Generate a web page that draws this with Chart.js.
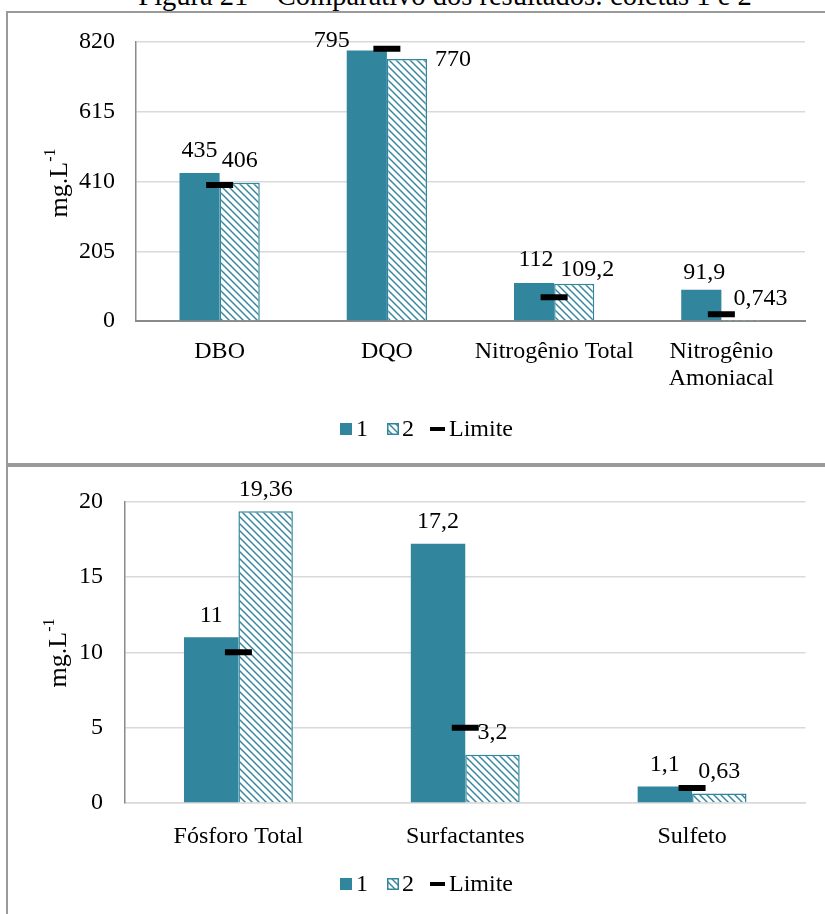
<!DOCTYPE html>
<html>
<head>
<meta charset="utf-8">
<script src="https://cdn.jsdelivr.net/npm/chart.js@4.4.1/dist/chart.umd.min.js"></script>
<style>
  html, body { margin: 0; padding: 0; background: #fff; width: 825px; height: 914px; overflow: hidden; position: relative; }
  .title { position: absolute; left: 0; width: 890px; top: -20px; text-align: center; font-family: 'Liberation Serif', 'Times New Roman', serif; font-size: 28.5px; line-height: 32px; color: #000; white-space: nowrap; }
  .box { position: absolute; border: 2px solid #9a9a9a; box-sizing: border-box; }
  #box1 { left: 6px; top: 11px; width: 860px; height: 454px; }
  #box2 { left: 6px; top: 465px; width: 860px; height: 520px; }
  canvas { position: absolute; left: 0; }
  #c1 { top: 0; }
  #c2 { top: 466px; }
</style>
</head>
<body>
<div class="title">Figura 21 – Comparativo dos resultados: coletas 1 e 2</div>
<div class="box" id="box1"></div>
<div class="box" id="box2"></div>
<canvas id="c1" width="825" height="464"></canvas>
<canvas id="c2" width="825" height="448"></canvas>
<script>
// ---- data ----
const seriesNames = ['1', '2', 'Limite'];

const categoriesA = ['DBO', 'DQO', 'Nitrogênio Total', ['Nitrogênio', 'Amoniacal']];
const coleta1A = [435, 795, 112, 91.9];
const coleta2A = [406, 770, 109.2, 0.743];
const limiteA = [400, 800, 70, 20];
const yTicksA = [0, 205, 410, 615, 820];

const categoriesB = ['Fósforo Total', 'Surfactantes', 'Sulfeto'];
const coleta1B = [11, 17.2, 1.1];
const coleta2B = [19.36, 3.2, 0.63];
const limiteB = [10, 5, 1];
const yTicksB = [0, 5, 10, 15, 20];

// ---- styling ----
const FONT = "'Liberation Serif', 'Times New Roman', serif";
const FS = 24;
const TEAL = '#31859C';

function stripePattern(color) {
  const s = 7;
  const tile = document.createElement('canvas');
  tile.width = s; tile.height = s;
  const g = tile.getContext('2d');
  g.fillStyle = '#fff';
  g.fillRect(0, 0, s, s);
  g.strokeStyle = color;
  g.lineWidth = 1.4;
  g.beginPath();
  g.moveTo(-1, -1); g.lineTo(s + 1, s + 1);
  g.moveTo(-1, s - 1); g.lineTo(1, s + 1);
  g.moveTo(s - 1, -1); g.lineTo(s + 1, 1);
  g.stroke();
  return g.createPattern(tile, 'repeat');
}
const HATCH = stripePattern(TEAL);

// value labels above each bar, with optional nudges per series/category
const valueLabels = {
  id: 'valueLabels',
  afterDatasetsDraw(chart, args, opts) {
    const ctx = chart.ctx;
    ctx.save();
    ctx.font = `${FS}px ${FONT}`;
    ctx.fillStyle = '#000';
    ctx.textAlign = 'center';
    ctx.textBaseline = 'middle';
    chart.data.datasets.forEach((ds, di) => {
      if (ds.type === 'line') return;
      const meta = chart.getDatasetMeta(di);
      meta.data.forEach((bar, i) => {
        const nudge = (opts.nudges && opts.nudges[di] && opts.nudges[di][i]) || [0, 0];
        const txt = String(ds.data[i]).replace('.', ',');
        ctx.fillText(txt, bar.x + nudge[0], bar.y - opts.gap + nudge[1]);
      });
    });
    ctx.restore();
  }
};

// rotated unit title with superscript
const unitTitle = {
  id: 'unitTitle',
  afterDraw(chart, args, opts) {
    const ctx = chart.ctx;
    ctx.save();
    ctx.translate(opts.x, opts.y);
    ctx.rotate(-Math.PI / 2);
    ctx.fillStyle = '#000';
    ctx.textAlign = 'left';
    ctx.textBaseline = 'alphabetic';
    ctx.font = `26px ${FONT}`;
    const w1 = ctx.measureText('mg.L').width;
    ctx.font = `16px ${FONT}`;
    const w2 = ctx.measureText('-1').width;
    const start = -(w1 + w2) / 2;
    ctx.font = `26px ${FONT}`;
    ctx.fillText('mg.L', start, 9);
    ctx.font = `16px ${FONT}`;
    ctx.fillText('-1', start + w1, -3);
    ctx.restore();
  }
};

// single-row legend under the plot
const legendRow = {
  id: 'legendRow',
  afterDraw(chart, args, opts) {
    const ctx = chart.ctx;
    ctx.save();
    ctx.font = `${FS}px ${FONT}`;
    ctx.textBaseline = 'middle';
    ctx.textAlign = 'left';
    let x = opts.x;
    const y = opts.y;
    // series 1: solid square
    ctx.fillStyle = TEAL;
    ctx.fillRect(x, y - 6, 12, 12);
    x += 16;
    ctx.fillStyle = '#000';
    ctx.fillText(seriesNames[0], x, y + 1);
    x += ctx.measureText(seriesNames[0]).width + 19;
    // series 2: hatched square
    ctx.fillStyle = HATCH;
    ctx.fillRect(x, y - 6, 12, 12);
    ctx.strokeStyle = TEAL;
    ctx.lineWidth = 1.5;
    ctx.strokeRect(x + 0.75, y - 5.25, 10.5, 10.5);
    x += 15;
    ctx.fillStyle = '#000';
    ctx.fillText(seriesNames[1], x, y + 1);
    x += ctx.measureText(seriesNames[1]).width + 16;
    // limit: short black dash
    ctx.fillStyle = '#000';
    ctx.fillRect(x, y - 2, 15, 4);
    x += 19;
    ctx.fillText(seriesNames[2], x, y + 1);
    ctx.restore();
  }
};

function buildChart(canvasId, cfg) {
  const axisFont = { family: FONT, size: FS, lineHeight: 1.14 };
  return new Chart(document.getElementById(canvasId), {
    type: 'bar',
    data: {
      labels: cfg.categories,
      datasets: [
        { label: seriesNames[0], data: cfg.s1, backgroundColor: TEAL, borderWidth: 0, order: 2 },
        { label: seriesNames[1], data: cfg.s2, backgroundColor: HATCH, borderColor: TEAL, borderWidth: 1.5, order: 2 },
        { type: 'line', label: seriesNames[2], data: cfg.lim, showLine: false, pointStyle: 'line',
          pointRadius: 13.5, pointBorderWidth: 6, borderColor: '#000', backgroundColor: '#000', order: 0 }
      ]
    },
    options: {
      responsive: false,
      animation: false,
      devicePixelRatio: 1,
      events: [],
      datasets: { bar: { barPercentage: 1, categoryPercentage: 0.48 } },
      layout: { padding: cfg.padding },
      scales: {
        x: {
          afterFit: s => { s.height = cfg.xHeight; },
          grid: { display: false },
          border: { display: true, color: cfg.xBorder, width: cfg.xBorderWidth },
          ticks: { padding: cfg.xPad, color: '#000', font: axisFont, maxRotation: 0, autoSkip: false }
        },
        y: {
          min: cfg.yTicks[0],
          max: cfg.yTicks[cfg.yTicks.length - 1],
          afterBuildTicks: s => { s.ticks = cfg.yTicks.map(v => ({ value: v })); },
          afterFit: s => { s.width = cfg.yWidth; },
          grid: { color: '#d9d9d9', lineWidth: 1.5, drawTicks: false },
          border: { display: true, color: '#8a8a8a', width: 1.5 },
          ticks: { padding: cfg.yPad, color: '#000', font: axisFont }
        }
      },
      plugins: {
        legend: { display: false },
        tooltip: { enabled: false },
        valueLabels: { gap: 22, nudges: cfg.nudges },
        unitTitle: cfg.unit,
        legendRow: cfg.legend
      }
    },
    plugins: [valueLabels, unitTitle, legendRow]
  });
}

// label nudges (dx, dy) for crowded labels in the upper chart
const nudgesA = [
  [[0, 0], [-35, 12], [2, -1], [3, 5]],
  [[0, 0], [46, 23], [13, 8], [19, 0]]
];

buildChart('c1', {
  categories: categoriesA, s1: coleta1A, s2: coleta2A, lim: limiteA, yTicks: yTicksA,
  padding: { left: 0, right: 20, top: 42, bottom: 0 },
  xHeight: 143, yWidth: 136, yPad: 21, xPad: 9,
  xBorder: '#8a8a8a', xBorderWidth: 2,
  nudges: nudgesA,
  unit: { x: 58, y: 183 },
  legend: { x: 340, y: 429 }
});

buildChart('c2', {
  categories: categoriesB, s1: coleta1B, s2: coleta2B, lim: limiteB, yTicks: yTicksB,
  padding: { left: 0, right: 16, top: 31, bottom: 0 },
  xHeight: 111, yWidth: 125, yPad: 22, xPad: 12,
  xBorder: '#d9d9d9', xBorderWidth: 1.5,
  nudges: null,
  unit: { x: 57, y: 187 },
  legend: { x: 340, y: 418 }
});
</script>
</body>
</html>
